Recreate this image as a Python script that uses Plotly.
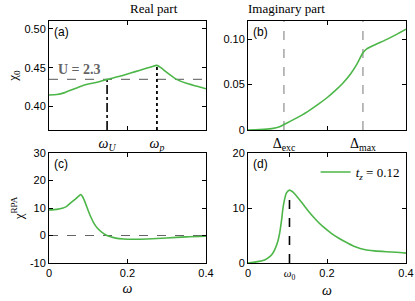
import plotly.graph_objects as go

# ---------------- data ----------------
w_re0 = [0, 0.02, 0.04, 0.06, 0.08, 0.10, 0.12, 0.148, 0.18, 0.20, 0.22, 0.24, 0.26, 0.275,
         0.285, 0.30, 0.325, 0.35, 0.375, 0.40]
re_chi0 = [0.415, 0.4155, 0.418, 0.422, 0.426, 0.429, 0.431, 0.435, 0.439, 0.442, 0.445, 0.448,
           0.451, 0.453, 0.450, 0.444, 0.435, 0.430, 0.4265, 0.423]

w_im0 = [0, 0.03, 0.06, 0.08, 0.091, 0.12, 0.15, 0.18, 0.20, 0.22, 0.24, 0.26, 0.275, 0.291,
         0.30, 0.32, 0.35, 0.375, 0.40]
im_chi0 = [0, 0.0004, 0.0015, 0.0035, 0.006, 0.0125, 0.020, 0.029, 0.0355, 0.043, 0.0515, 0.062,
           0.072, 0.085, 0.089, 0.0935, 0.0995, 0.105, 0.111]

w_rerpa = [0, 0.02, 0.034, 0.045, 0.059, 0.07, 0.077, 0.081, 0.086, 0.093, 0.10, 0.106, 0.115,
           0.123, 0.135, 0.144, 0.155, 0.17, 0.19, 0.212, 0.25, 0.30, 0.35, 0.40]
re_rpa = [9.3, 9.5, 9.9, 10.6, 12.3, 13.6, 14.5, 14.9, 14.0, 11.7, 9.0, 6.9, 4.3,
          2.7, 1.1, 0.25, -0.4, -0.95, -1.25, -1.35, -1.25, -0.9, -0.5, -0.3]

w_imrpa = [0, 0.02, 0.04, 0.05, 0.06, 0.0675, 0.075, 0.08, 0.085, 0.0886, 0.093, 0.097, 0.105,
           0.112, 0.118, 0.135, 0.15, 0.169, 0.19, 0.211, 0.23, 0.253, 0.27, 0.297, 0.32, 0.35,
           0.375, 0.40]
im_rpa = [0, 0.2, 0.5, 0.9, 1.5, 2.4, 3.8, 5.4, 7.8, 10.0, 11.7, 12.7, 13.25,
          13.0, 12.6, 11.1, 9.7, 8.1, 6.6, 5.4, 4.5, 3.6, 3.0, 2.4, 2.2, 2.05,
          1.95, 1.8]

U_val = 0.435
w_U, w_p = 0.148, 0.275
chi0_p = 0.453
d_exc, d_max = 0.091, 0.291
w_0, rpa_0 = 0.105, 13.25

GREEN = "rgb(77,182,72)"
SERIF = "Liberation Serif"
SANS = "Liberation Sans"

fig = go.Figure()

def line(x, y, xa, ya, show=False, name=None):
    fig.add_trace(go.Scatter(x=x, y=y, xaxis=xa, yaxis=ya, mode="lines",
                             line=dict(color=GREEN, width=1.6, shape="spline", smoothing=0.6),
                             showlegend=show, name=name, hoverinfo="skip"))

def ref(x, y, xa, ya, color, dash, width=1.2):
    fig.add_trace(go.Scatter(x=x, y=y, xaxis=xa, yaxis=ya, mode="lines",
                             line=dict(color=color, dash=dash, width=width),
                             showlegend=False, hoverinfo="skip"))

# (a)
ref([0, 0.4], [U_val, U_val], "x", "y", "rgb(120,120,120)", "dash", 1.3)
ref([w_U, w_U], [0.37, U_val], "x", "y", "black", "dashdot", 1.6)
ref([w_p, w_p], [0.37, chi0_p], "x", "y", "black", "dot", 1.8)
line(w_re0, re_chi0, "x", "y")
# (b)
ref([d_exc, d_exc], [0, 0.12], "x2", "y2", "rgb(120,120,120)", "dash", 1.0)
ref([d_max, d_max], [0, 0.12], "x2", "y2", "rgb(120,120,120)", "dash", 1.0)
line(w_im0, im_chi0, "x2", "y2")
# (c)
ref([0, 0.4], [0, 0], "x3", "y3", "rgb(100,100,100)", "dash", 1.0)
line(w_rerpa, re_rpa, "x3", "y3")
# (d)
ref([w_0, w_0], [0, rpa_0], "x4", "y4", "black", "dash", 1.6)
line(w_imrpa, im_rpa, "x4", "y4", show=True, name="<i>t</i><sub><i>z</i></sub> = 0.12")

dx1 = [49/415, 206/415]
dx2 = [248/415, 406/415]
dyt = [1-130/301, 1-21/301]
dyb = [1-263/301, 1-153/301]

ax_common = dict(showline=True, linecolor="black", linewidth=1, mirror="ticks",
                 ticks="inside", tickcolor="black", showgrid=False, zeroline=False,
                 automargin=False,
                 tickfont=dict(family=SANS, size=11, color="black"))

omega_title = dict(text="<i>ω</i>", font=dict(family=SERIF, size=14, color="black"), standoff=4)
minor02 = dict(tickvals=[0.2], ticks="inside", ticklen=4, tickcolor="black")

fig.update_layout(
    width=415, height=301, margin=dict(l=0, r=0, t=0, b=0, autoexpand=False),
    paper_bgcolor="white", plot_bgcolor="white",
    xaxis=dict(domain=dx1, anchor="y", range=[0, 0.4], tickvals=[w_U, w_p],
               ticktext=["<i>ω</i><sub><i>U</i></sub>", "<i>ω</i><sub><i>p</i></sub>"],
               tickfont=dict(family=SERIF, size=14, color="black"),
               ticklen=0, minor=minor02,
               **{k: v for k, v in ax_common.items() if k != "tickfont"}),
    yaxis=dict(domain=dyt, anchor="x", range=[0.37, 0.51], tickvals=[0.40, 0.45, 0.50],
               ticktext=["0.40", "0.45", "0.50"], ticklen=4,
               title=dict(text="χ<sub>0</sub>", font=dict(family=SERIF, size=13, color="black"), standoff=3),
               **ax_common),
    xaxis2=dict(domain=dx2, anchor="y2", range=[0, 0.4], tickvals=[d_exc, d_max],
                ticktext=["Δ<sub>exc</sub>", "Δ<sub>max</sub>"],
                tickfont=dict(family=SERIF, size=14, color="black"),
                ticklen=0, minor=minor02,
                **{k: v for k, v in ax_common.items() if k != "tickfont"}),
    yaxis2=dict(domain=dyt, anchor="x2", range=[0, 0.12], tickvals=[0, 0.05, 0.10],
                ticktext=["0", "0.05", "0.10"], ticklen=4, **ax_common),
    xaxis3=dict(domain=dx1, anchor="y3", range=[0, 0.4], tickvals=[0, 0.2, 0.4],
                ticktext=["0", "0.2", "0.4"], ticklen=4, title=omega_title, **ax_common),
    yaxis3=dict(domain=dyb, anchor="x3", range=[-10, 30], tickvals=[-10, 0, 10, 20, 30],
                ticktext=["-10", "0", "10", "20", "30"], ticklen=4,
                title=dict(text="χ<sup>RPA</sup>", font=dict(family=SERIF, size=13, color="black"), standoff=3),
                **ax_common),
    xaxis4=dict(domain=dx2, anchor="y4", range=[0, 0.4], tickvals=[0, w_0, 0.2, 0.4],
                ticktext=["0", "<span style='font-family:Liberation Serif'><i>ω</i><sub>0</sub></span>", "0.2", "0.4"],
                ticklen=4, title=omega_title, **ax_common),
    yaxis4=dict(domain=dyb, anchor="x4", range=[0, 20], tickvals=[0, 10, 20],
                ticktext=["0", "10", "20"], ticklen=4, **ax_common),
    legend=dict(x=0.975, xanchor="right", y=0.478, yanchor="top", bgcolor="rgba(0,0,0,0)",
                font=dict(family=SERIF, size=13, color="black"), itemwidth=30),
    showlegend=True,
)

# titles and annotations
fig.add_annotation(text="Real part", x=(dx1[0]+dx1[1])/2, y=1-9/301, xref="paper", yref="paper",
                   yanchor="middle", showarrow=False, font=dict(family=SERIF, size=13, color="black"))
fig.add_annotation(text="Imaginary part", x=(dx2[0]+dx2[1])/2, y=1-9/301, xref="paper", yref="paper",
                   yanchor="middle", showarrow=False, font=dict(family=SERIF, size=13, color="black"))
fig.add_annotation(text="<b>U = 2.3</b>", x=0.018, y=0.4475, xref="x", yref="y", xanchor="left",
                   showarrow=False, font=dict(family=SERIF, size=14, color="rgb(100,100,100)"))
for lab, xr, yr in [("(a)", "x domain", "y domain"), ("(b)", "x2 domain", "y2 domain"),
                    ("(c)", "x3 domain", "y3 domain"), ("(d)", "x4 domain", "y4 domain")]:
    fig.add_annotation(text=lab, x=0.02, y=0.985, xref=xr, yref=yr, xanchor="left", yanchor="top",
                       showarrow=False, font=dict(family=SANS, size=12, color="black"))

fig.write_html("out.html", config={"displayModeBar": False},
               post_script="document.body.style.margin='0';document.body.style.overflow='hidden';")
